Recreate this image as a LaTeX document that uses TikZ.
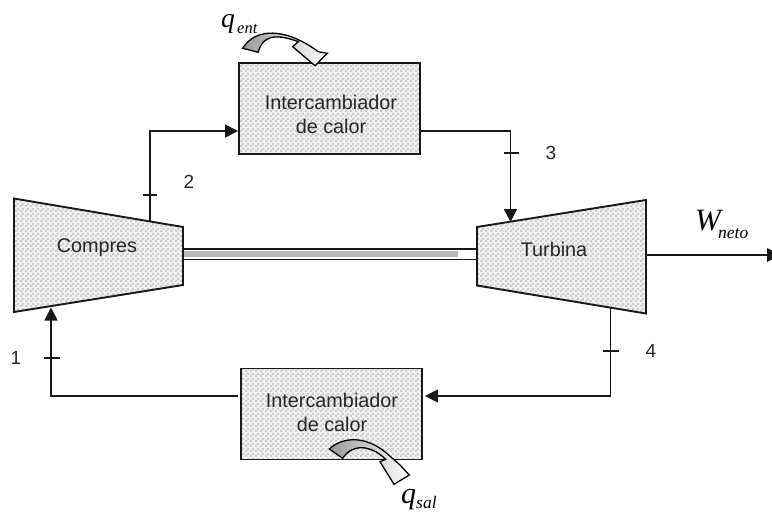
\documentclass[tikz,border=0pt]{standalone}
\usepackage{fontspec}
\setmainfont{Liberation Sans}
\newfontfamily\mathserif{Liberation Serif}[ItalicFont=* Italic]
\usetikzlibrary{arrows.meta,patterns,calc}
\definecolor{dither}{gray}{0.80}
\pgfdeclarepatternformonly{checkerhx}{\pgfqpoint{0pt}{0pt}}{\pgfqpoint{5pt}{5pt}}{\pgfqpoint{5pt}{5pt}}{%
  \pgfpathrectangle{\pgfqpoint{0pt}{0pt}}{\pgfqpoint{2.5pt}{2.5pt}}%
  \pgfpathrectangle{\pgfqpoint{2.5pt}{2.5pt}}{\pgfqpoint{2.5pt}{2.5pt}}%
  \pgfusepath{fill}}
\tikzset{
  x=1pt,y=-1pt,
  line/.style={draw=black!90,line width=1.6pt},
  flow/.style={line,-{Triangle[length=13pt,width=13pt]}},
  tex/.style={preaction={fill=black!5},pattern=checkerhx,pattern color=dither},
  machine/.style={line,line width=1.9pt,tex,line join=miter},
  hx/.style={draw=black!90,line width=1.9pt,tex,minimum width=181pt,minimum height=91pt,inner sep=0pt},
  caption/.style={font=\fontsize{19.8}{24}\selectfont,align=center,inner sep=0pt,text=black!85},
  num/.style={font=\fontsize{19}{20}\selectfont,inner sep=0pt,text=black!85},
  sym/.style={font=\mathserif\itshape\fontsize{29}{30}\selectfont,inner sep=0pt,anchor=base west},
  sub/.style={font=\mathserif\itshape\fontsize{17.5}{20}\selectfont,inner sep=0pt,anchor=base west},
  tick/.style={draw=black!90,line width=1.2pt},
  heat/.style={draw=black,line width=1.3pt,left color=black!40,middle color=white,right color=white,line join=miter}
}
\begin{document}
\begin{tikzpicture}
\useasboundingbox (0,0) rectangle (772,512);
% machines
\draw[machine] (14,198.5) -- (183,227) -- (183,285) -- (14,312) -- cycle;
\draw[machine] (477,227) -- (646,200) -- (646,313.5) -- (477,285.5) -- cycle;
\node[caption] (compres) at (97,248) {Compres};
\node[caption] (turbina) at (554,249) {Turbina};
% shaft
\fill[black!28] (184,251.3) rectangle (458,257);
\coordinate (sa1) at (184,249);
\coordinate (sb1) at (476,249);
\coordinate (sa2) at (184,259.5);
\coordinate (sb2) at (476,259.5);
\draw[line] (sa1) -- (sb1);
\draw[line] (sa2) -- (sb2);
% heat exchangers
\node[hx] (hxA) at (329.5,108.5) {};
\node[hx] (hxB) at (331.5,414) {};
\node[caption] (hxAt) at (331,114) {Intercambiador\\de calor};
\node[caption] (hxBt) at (332,412) {Intercambiador\\de calor};
% ports
\coordinate (cout) at (150,222);
\coordinate (cin) at (51,307.5);
\coordinate (tin) at (510.5,222);
\coordinate (tout) at (610.5,307);
\coordinate (tshaft) at (646,255);
\coordinate (wend) at (781,255);
% connectors
\draw[flow] (cout) |- ([yshift=-22.5pt]hxA.west);
\draw[flow] ([yshift=-22.5pt]hxA.east) -| (tin);
\draw[flow] (tout) |- ([yshift=18pt,xshift=2pt]hxB.east);
\draw[flow] ([yshift=18pt,xshift=-2pt]hxB.west) -| (cin);
\draw[line,line width=2.6pt,-{Triangle[length=14pt,width=13pt]}] (tshaft) -- (wend);
% ticks
\draw[tick] (143,195) -- (157,195);
\draw[tick] (503.5,153) -- (518.5,153);
\draw[tick] (602.5,351) -- (619,351);
\draw[tick] (44,358) -- (60,358);
% numbers
\node[num] (n1) at (16,358) {1};
\node[num] (n2) at (189,182) {2};
\node[num] (n3) at (551,153) {3};
\node[num] (n4) at (651,351) {4};
% heat arrows
\draw[heat] (242.7,48.3) .. controls (255,28) and (285,27) .. (318.3,51.7)
  -- (327.3,53.3) -- (315,65.7) -- (292.7,46.7) -- (298.3,41.7)
  .. controls (275,33) and (262,36) .. (258.3,52.3) -- cycle;
\draw[heat] (329.3,449) .. controls (343.3,436) and (366.7,436) .. (386.7,453.3)
  -- (400,465) -- (409.3,475) -- (394,484.3) -- (380,461.7) -- (385.7,459.3)
  .. controls (370,444) and (351.7,444) .. (342.7,458.3) -- cycle;
% symbols
\node[sym,font=\mathserif\itshape\fontsize{27.5}{30}\selectfont] (qe) at (221,27.4) {q};
\node[sub,font=\mathserif\itshape\fontsize{16.5}{20}\selectfont] (qes) at (237,33) {ent};
\node[sym,font=\mathserif\itshape\fontsize{30}{32}\selectfont] (qs) at (401,503) {q};
\node[sub] (qss) at (416,508.5) {sal};
\node[sym,font=\mathserif\itshape\fontsize{31}{32}\selectfont] (w) at (695,230) {W};
\node[sub] (ws) at (718,238) {neto};
\end{tikzpicture}
\end{document}
